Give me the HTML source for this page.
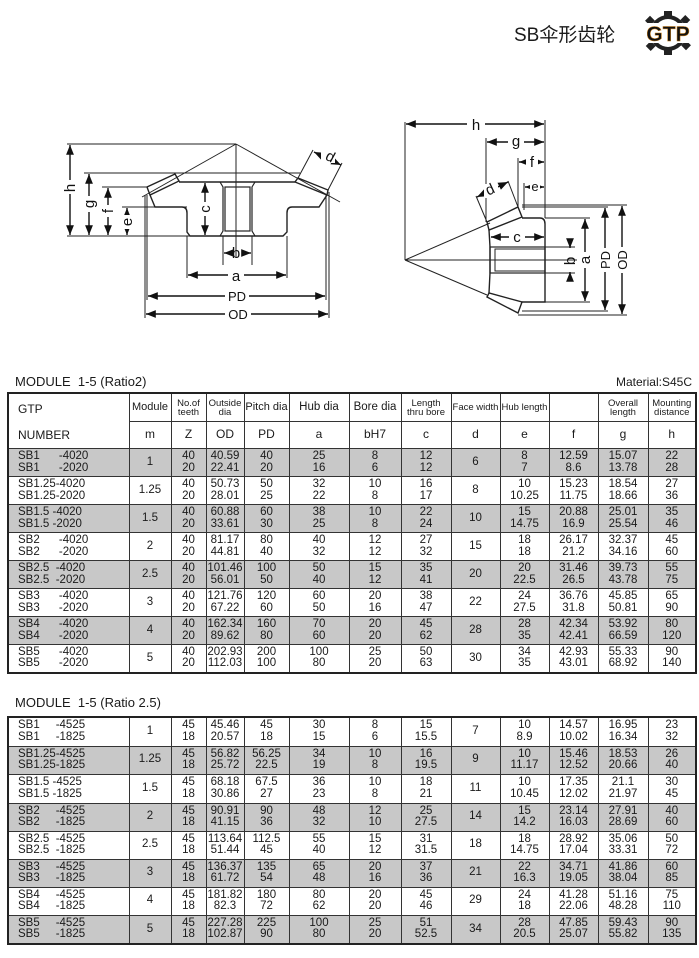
<!DOCTYPE html>
<html><head><meta charset="utf-8"><style>
body{margin:0;width:699px;height:958px;background:#fff;position:relative;overflow:hidden;font-family:"Liberation Sans","Noto Sans CJK SC",sans-serif;color:#1a1a1a}
.abs{position:absolute}
table{position:absolute;left:7px;border-collapse:collapse;table-layout:fixed;width:688px;border:2px solid #222}
td{border:1px solid #333;padding:0;text-align:center;font-size:11.5px;line-height:11.5px;overflow:hidden;white-space:nowrap}
td.n{text-align:left;padding-left:9px}
tr.g td{background:#c8c8c8}
.h td{font-size:9.5px;line-height:9px}
.h2 td{font-size:12px}
</style></head><body>
<div class="abs" style="left:514px;top:20px;font-size:19px;">SB伞形齿轮</div>
<svg class="abs" style="left:640px;top:10px" width="56" height="46" viewBox="0 0 56 46">
<g fill="#222"><circle cx="28" cy="23" r="18"/>
<rect x="24" y="1" width="8" height="7"/><rect x="24" y="38" width="8" height="7"/>
<rect x="7" y="7" width="7" height="7" transform="rotate(45 10 10)"/><rect x="42" y="7" width="7" height="7" transform="rotate(45 46 10)"/>
<rect x="7" y="32" width="7" height="7" transform="rotate(45 10 36)"/><rect x="42" y="32" width="7" height="7" transform="rotate(45 46 36)"/></g>
<circle cx="28" cy="23" r="14" fill="#fff"/>
<rect x="1" y="13" width="54" height="20" fill="#fff"/>
<text x="28" y="31" text-anchor="middle" font-family="Liberation Sans" font-weight="bold" font-size="21" fill="#111" stroke="#c87a10" stroke-width="0.5">GTP</text>
</svg>

<svg class="abs" style="left:0;top:0" width="699" height="340" viewBox="0 0 699 340">
<defs><marker id="a" viewBox="0 0 10 10" refX="10" refY="5" markerWidth="7" markerHeight="7" orient="auto-start-reverse"><path d="M0,1 L10,5 L0,9 z" fill="#111"/></marker></defs>
<g stroke="#222" stroke-width="1" fill="none">
<line x1="67" y1="144" x2="236" y2="144"/>
<line x1="67" y1="236" x2="190" y2="236"/>
<line x1="84" y1="173" x2="300" y2="173"/>
<line x1="102" y1="187" x2="147" y2="187"/>
<line x1="122" y1="207" x2="187" y2="207"/>
<line x1="236" y1="144" x2="142" y2="197"/>
<line x1="236" y1="144" x2="340" y2="202"/>
<line x1="236" y1="144" x2="236" y2="258"/>
<path d="M175,174 L179,181 L150,195 L147,187 Z" stroke-width="1.4"/>
<path d="M298,178 L328,190 L327,195 L295,182 Z" stroke-width="1.4"/>
<path d="M150,195 L155,207 L182,207 Q187,207 187,213 L187,232 L190,236 L283,236 L287,232 L287,213 Q287,207 292,207 L319,207 L327,195" stroke-width="1.4"/>
<line x1="179" y1="182" x2="295" y2="182" stroke-width="1.4"/>
<path d="M220,182 L223,187 L223,231 L220,236 M255,182 L252,187 L252,231 L255,236" stroke-width="1.2"/>
<rect x="225" y="187" width="25" height="44" stroke-width="1.2"/>
<line x1="223" y1="236" x2="223" y2="265"/><line x1="252" y1="236" x2="252" y2="265"/>
<line x1="187" y1="236" x2="187" y2="278"/><line x1="287" y1="236" x2="287" y2="278"/>
<line x1="147" y1="195" x2="147" y2="300"/><line x1="326" y1="195" x2="326" y2="300"/>
<line x1="145" y1="195" x2="145" y2="318"/><line x1="329" y1="192" x2="329" y2="318"/>
<line x1="298" y1="178" x2="313" y2="150"/><line x1="328" y1="190" x2="342" y2="163"/>
</g>
<g stroke="#111" stroke-width="1.4" fill="none" marker-start="url(#a)" marker-end="url(#a)">
<line x1="70" y1="145" x2="70" y2="235"/>
<line x1="89" y1="174" x2="89" y2="235"/>
<line x1="108" y1="188" x2="108" y2="235"/>
<line x1="127" y1="208" x2="127" y2="235"/>
<line x1="205" y1="183" x2="205" y2="235"/>
<line x1="188" y1="275" x2="286" y2="275"/>
<line x1="148" y1="296" x2="325" y2="296"/>
<line x1="146" y1="314" x2="328" y2="314"/>
<line x1="314" y1="152" x2="341" y2="165"/>
</g>
<g stroke="#111" stroke-width="1.4" marker-end="url(#a)"><line x1="232" y1="253" x2="224" y2="253"/><line x1="243" y1="253" x2="251" y2="253"/></g>
<g font-family="Liberation Sans" font-size="15" fill="#111" text-anchor="middle">
<rect x="62" y="180" width="16" height="14" fill="#fff"/><text transform="translate(75,188) rotate(-90)" y="0">h</text>
<rect x="81" y="196" width="16" height="16" fill="#fff"/><text transform="translate(94,204) rotate(-90)">g</text>
<rect x="100" y="205" width="16" height="12" fill="#fff"/><text transform="translate(113,211) rotate(-90)">f</text>
<rect x="119" y="215" width="16" height="14" fill="#fff"/><text transform="translate(132,222) rotate(-90)">e</text>
<rect x="197" y="202" width="16" height="14" fill="#fff"/><text transform="translate(210,209) rotate(-90)">c</text>
<rect x="228" y="268" width="16" height="14" fill="#fff"/><text x="236" y="281">a</text>
<text x="236" y="258">b</text>
<rect x="225" y="289" width="24" height="14" fill="#fff"/><text x="237" y="301" font-size="13">PD</text>
<rect x="225" y="307" width="26" height="14" fill="#fff"/><text x="238" y="319" font-size="13">OD</text>
<rect x="321" y="151" width="14" height="12" fill="#fff"/><text transform="translate(328,161) rotate(28)">d</text>
</g>

<g stroke="#222" stroke-width="1" fill="none">
<line x1="405" y1="122" x2="405" y2="260"/>
<line x1="545" y1="120" x2="545" y2="218"/>
<line x1="486" y1="138" x2="486" y2="222"/>
<line x1="518" y1="158" x2="518" y2="207"/>
<line x1="524" y1="183" x2="524" y2="210"/>
<line x1="405" y1="260" x2="577" y2="260"/>
<line x1="405" y1="260" x2="490" y2="223"/>
<line x1="405" y1="260" x2="487" y2="295"/>
<line x1="545" y1="247" x2="575" y2="247"/><line x1="545" y1="273" x2="575" y2="273"/>
<line x1="545" y1="218" x2="590" y2="218"/><line x1="522" y1="302" x2="590" y2="302"/>
<line x1="522" y1="207" x2="608" y2="207"/><line x1="522" y1="311" x2="608" y2="311"/>
<line x1="522" y1="205" x2="627" y2="205"/><line x1="518" y1="315" x2="627" y2="315"/>
<line x1="487" y1="222" x2="476" y2="196"/><line x1="518" y1="207" x2="508" y2="181"/>
<path d="M487,222 L518,207 L522,217 L489,230 Z" stroke-width="1.4"/>
<path d="M487,297 L518,313 L522,302 L489,293 Z" stroke-width="1.4"/>
<path d="M522,218 L540,218 Q545,218 545,224 L545,302 L522,302" stroke-width="1.4"/>
<path d="M489,230 L490,247 L490,273 L489,293" stroke-width="1.4"/>
<rect x="490" y="247" width="55" height="26" stroke-width="1.2"/>
<rect x="495" y="249" width="50" height="22" stroke-width="1"/>
</g>
<g stroke="#111" stroke-width="1.4" fill="none" marker-start="url(#a)" marker-end="url(#a)">
<line x1="406" y1="124" x2="544" y2="124"/>
<line x1="487" y1="142" x2="544" y2="142"/>
<line x1="519" y1="162" x2="544" y2="162"/>
<line x1="525" y1="187" x2="544" y2="187"/>
<line x1="491" y1="237" x2="544" y2="237"/>
<line x1="585" y1="219" x2="585" y2="301"/>
<line x1="605" y1="208" x2="605" y2="310"/>
<line x1="622" y1="206" x2="622" y2="314"/>
<line x1="477" y1="197" x2="508" y2="182"/>
</g>
<g stroke="#111" stroke-width="1.4" marker-end="url(#a)"><line x1="570" y1="240" x2="570" y2="248"/><line x1="570" y1="280" x2="570" y2="272"/></g>
<g font-family="Liberation Sans" font-size="15" fill="#111" text-anchor="middle">
<rect x="467" y="116" width="18" height="14" fill="#fff"/><text x="476" y="130">h</text>
<rect x="508" y="134" width="16" height="14" fill="#fff"/><text x="516" y="146">g</text>
<rect x="526" y="154" width="12" height="14" fill="#fff"/><text x="532" y="167">f</text>
<rect x="530" y="180" width="10" height="12" fill="#fff"/><text x="535" y="191" font-size="13">e</text>
<rect x="509" y="229" width="16" height="14" fill="#fff"/><text x="517" y="242">c</text>
<text transform="translate(575,261) rotate(-90)">b</text>
<rect x="578" y="252" width="14" height="16" fill="#fff"/><text transform="translate(590,260) rotate(-90)">a</text>
<rect x="597" y="248" width="14" height="24" fill="#fff"/><text transform="translate(610,260) rotate(-90)" font-size="13">PD</text>
<rect x="614" y="247" width="14" height="26" fill="#fff"/><text transform="translate(627,260) rotate(-90)" font-size="13">OD</text>
<rect x="484" y="184" width="14" height="14" fill="#fff"/><text transform="translate(492,194) rotate(-25)">d</text>
</g>
</svg>

<div class="abs" style="left:15px;top:374px;font-size:13px;">MODULE&nbsp; 1-5 (Ratio2)</div>
<div class="abs" style="left:600px;top:375px;font-size:12px;width:92px;text-align:right">Material:S45C</div>

<table style="top:392px">
<colgroup><col style="width:121px"><col style="width:42px"><col style="width:35px"><col style="width:38px"><col style="width:45px"><col style="width:60px"><col style="width:52px"><col style="width:50px"><col style="width:49px"><col style="width:49px"><col style="width:49px"><col style="width:50px"><col style="width:48px"></colgroup>
<tr class="h" style="height:27px"><td class="n" rowspan="2" style="font-size:12px;line-height:26px;vertical-align:top;padding-top:2px">GTP<br>NUMBER</td><td style="font-size:11px">Module</td><td>No.of<br>teeth</td><td>Outside<br>dia</td><td style="font-size:11px">Pitch dia</td><td style="font-size:11.5px">Hub dia</td><td style="font-size:11.5px">Bore dia</td><td>Length<br>thru bore</td><td>Face width</td><td>Hub length</td><td></td><td>Overall<br>length</td><td>Mounting<br>distance</td></tr>
<tr class="h2" style="height:25px"><td>m</td><td>Z</td><td>OD</td><td>PD</td><td>a</td><td>bH7</td><td>c</td><td>d</td><td>e</td><td>f</td><td>g</td><td>h</td></tr>
<tr class="g" style="height:28px"><td class="n">SB1&nbsp;&nbsp;&nbsp;&nbsp;&nbsp; -4020<br>SB1&nbsp;&nbsp;&nbsp;&nbsp;&nbsp; -2020</td><td>1</td><td>40<br>20</td><td>40.59<br>22.41</td><td>40<br>20</td><td>25<br>16</td><td>8<br>6</td><td>12<br>12</td><td>6</td><td>8<br>7</td><td>12.59<br>8.6</td><td>15.07<br>13.78</td><td>22<br>28</td></tr>
<tr style="height:28px"><td class="n">SB1.25-4020<br>SB1.25-2020</td><td>1.25</td><td>40<br>20</td><td>50.73<br>28.01</td><td>50<br>25</td><td>32<br>22</td><td>10<br>8</td><td>16<br>17</td><td>8</td><td>10<br>10.25</td><td>15.23<br>11.75</td><td>18.54<br>18.66</td><td>27<br>36</td></tr>
<tr class="g" style="height:28px"><td class="n">SB1.5 -4020<br>SB1.5 -2020</td><td>1.5</td><td>40<br>20</td><td>60.88<br>33.61</td><td>60<br>30</td><td>38<br>25</td><td>10<br>8</td><td>22<br>24</td><td>10</td><td>15<br>14.75</td><td>20.88<br>16.9</td><td>25.01<br>25.54</td><td>35<br>46</td></tr>
<tr style="height:28px"><td class="n">SB2&nbsp;&nbsp;&nbsp;&nbsp;&nbsp; -4020<br>SB2&nbsp;&nbsp;&nbsp;&nbsp;&nbsp; -2020</td><td>2</td><td>40<br>20</td><td>81.17<br>44.81</td><td>80<br>40</td><td>40<br>32</td><td>12<br>12</td><td>27<br>32</td><td>15</td><td>18<br>18</td><td>26.17<br>21.2</td><td>32.37<br>34.16</td><td>45<br>60</td></tr>
<tr class="g" style="height:28px"><td class="n">SB2.5&nbsp; -4020<br>SB2.5&nbsp; -2020</td><td>2.5</td><td>40<br>20</td><td>101.46<br>56.01</td><td>100<br>50</td><td>50<br>40</td><td>15<br>12</td><td>35<br>41</td><td>20</td><td>20<br>22.5</td><td>31.46<br>26.5</td><td>39.73<br>43.78</td><td>55<br>75</td></tr>
<tr style="height:28px"><td class="n">SB3&nbsp;&nbsp;&nbsp;&nbsp;&nbsp; -4020<br>SB3&nbsp;&nbsp;&nbsp;&nbsp;&nbsp; -2020</td><td>3</td><td>40<br>20</td><td>121.76<br>67.22</td><td>120<br>60</td><td>60<br>50</td><td>20<br>16</td><td>38<br>47</td><td>22</td><td>24<br>27.5</td><td>36.76<br>31.8</td><td>45.85<br>50.81</td><td>65<br>90</td></tr>
<tr class="g" style="height:28px"><td class="n">SB4&nbsp;&nbsp;&nbsp;&nbsp;&nbsp; -4020<br>SB4&nbsp;&nbsp;&nbsp;&nbsp;&nbsp; -2020</td><td>4</td><td>40<br>20</td><td>162.34<br>89.62</td><td>160<br>80</td><td>70<br>60</td><td>20<br>20</td><td>45<br>62</td><td>28</td><td>28<br>35</td><td>42.34<br>42.41</td><td>53.92<br>66.59</td><td>80<br>120</td></tr>
<tr style="height:28px"><td class="n">SB5&nbsp;&nbsp;&nbsp;&nbsp;&nbsp; -4020<br>SB5&nbsp;&nbsp;&nbsp;&nbsp;&nbsp; -2020</td><td>5</td><td>40<br>20</td><td>202.93<br>112.03</td><td>200<br>100</td><td>100<br>80</td><td>25<br>20</td><td>50<br>63</td><td>30</td><td>34<br>35</td><td>42.93<br>43.01</td><td>55.33<br>68.92</td><td>90<br>140</td></tr>
</table>

<div class="abs" style="left:15px;top:695px;font-size:13px;">MODULE&nbsp; 1-5 (Ratio 2.5)</div>

<table style="top:716px">
<colgroup><col style="width:121px"><col style="width:42px"><col style="width:35px"><col style="width:38px"><col style="width:45px"><col style="width:60px"><col style="width:52px"><col style="width:50px"><col style="width:49px"><col style="width:49px"><col style="width:49px"><col style="width:50px"><col style="width:48px"></colgroup>
<tr style="height:29px"><td class="n">SB1&nbsp;&nbsp;&nbsp;&nbsp; -4525<br>SB1&nbsp;&nbsp;&nbsp;&nbsp; -1825</td><td>1</td><td>45<br>18</td><td>45.46<br>20.57</td><td>45<br>18</td><td>30<br>15</td><td>8<br>6</td><td>15<br>15.5</td><td>7</td><td>10<br>8.9</td><td>14.57<br>10.02</td><td>16.95<br>16.34</td><td>23<br>32</td></tr>
<tr class="g" style="height:28px"><td class="n">SB1.25-4525<br>SB1.25-1825</td><td>1.25</td><td>45<br>18</td><td>56.82<br>25.72</td><td>56.25<br>22.5</td><td>34<br>19</td><td>10<br>8</td><td>16<br>19.5</td><td>9</td><td>10<br>11.17</td><td>15.46<br>12.52</td><td>18.53<br>20.66</td><td>26<br>40</td></tr>
<tr style="height:29px"><td class="n">SB1.5 -4525<br>SB1.5 -1825</td><td>1.5</td><td>45<br>18</td><td>68.18<br>30.86</td><td>67.5<br>27</td><td>36<br>23</td><td>10<br>8</td><td>18<br>21</td><td>11</td><td>10<br>10.45</td><td>17.35<br>12.02</td><td>21.1<br>21.97</td><td>30<br>45</td></tr>
<tr class="g" style="height:28px"><td class="n">SB2&nbsp;&nbsp;&nbsp;&nbsp; -4525<br>SB2&nbsp;&nbsp;&nbsp;&nbsp; -1825</td><td>2</td><td>45<br>18</td><td>90.91<br>41.15</td><td>90<br>36</td><td>48<br>32</td><td>12<br>10</td><td>25<br>27.5</td><td>14</td><td>15<br>14.2</td><td>23.14<br>16.03</td><td>27.91<br>28.69</td><td>40<br>60</td></tr>
<tr style="height:28px"><td class="n">SB2.5&nbsp; -4525<br>SB2.5&nbsp; -1825</td><td>2.5</td><td>45<br>18</td><td>113.64<br>51.44</td><td>112.5<br>45</td><td>55<br>40</td><td>15<br>12</td><td>31<br>31.5</td><td>18</td><td>18<br>14.75</td><td>28.92<br>17.04</td><td>35.06<br>33.31</td><td>50<br>72</td></tr>
<tr class="g" style="height:28px"><td class="n">SB3&nbsp;&nbsp;&nbsp;&nbsp; -4525<br>SB3&nbsp;&nbsp;&nbsp;&nbsp; -1825</td><td>3</td><td>45<br>18</td><td>136.37<br>61.72</td><td>135<br>54</td><td>65<br>48</td><td>20<br>16</td><td>37<br>36</td><td>21</td><td>22<br>16.3</td><td>34.71<br>19.05</td><td>41.86<br>38.04</td><td>60<br>85</td></tr>
<tr style="height:28px"><td class="n">SB4&nbsp;&nbsp;&nbsp;&nbsp; -4525<br>SB4&nbsp;&nbsp;&nbsp;&nbsp; -1825</td><td>4</td><td>45<br>18</td><td>181.82<br>82.3</td><td>180<br>72</td><td>80<br>62</td><td>20<br>20</td><td>45<br>46</td><td>29</td><td>24<br>18</td><td>41.28<br>22.06</td><td>51.16<br>48.28</td><td>75<br>110</td></tr>
<tr class="g" style="height:29px"><td class="n">SB5&nbsp;&nbsp;&nbsp;&nbsp; -4525<br>SB5&nbsp;&nbsp;&nbsp;&nbsp; -1825</td><td>5</td><td>45<br>18</td><td>227.28<br>102.87</td><td>225<br>90</td><td>100<br>80</td><td>25<br>20</td><td>51<br>52.5</td><td>34</td><td>28<br>20.5</td><td>47.85<br>25.07</td><td>59.43<br>55.82</td><td>90<br>135</td></tr>
</table>
</body></html>
